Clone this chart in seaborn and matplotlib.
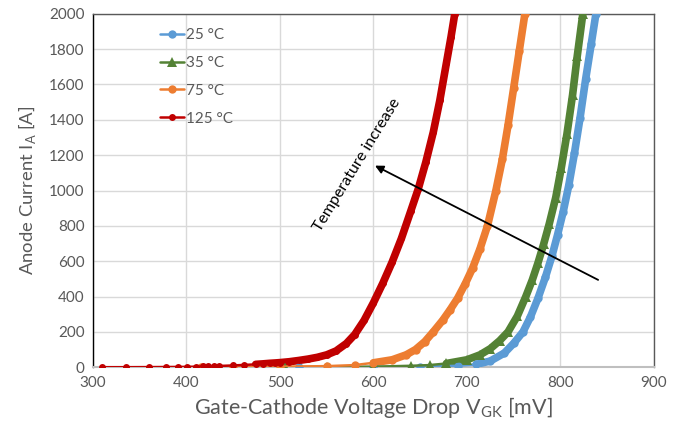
import seaborn as sns
import matplotlib.pyplot as plt
import pandas as pd
from matplotlib.lines import Line2D

# values (mV, A)
v_25 = [520, 600, 650, 690, 710, 725, 740, 750, 760, 768, 776, 784, 791, 797, 803, 809, 815, 821, 827, 833, 838]
i_25 = [0, 1, 3, 8, 16, 35, 80, 135, 200, 285, 390, 510, 630, 750, 880, 1030, 1210, 1410, 1630, 1830, 2000]

v_35 = [505, 550, 600, 640, 660, 678, 700, 714, 725, 735, 744, 754, 763, 770, 776, 782, 788, 795, 801, 807, 813, 818, 824]
i_35 = [0, 1, 3, 8, 12, 21, 42, 70, 105, 150, 200, 290, 400, 495, 590, 695, 810, 960, 1130, 1320, 1540, 1760, 2000]

v_75 = [415, 450, 500, 550, 580, 600, 620, 635, 645, 655, 664, 674, 682, 690, 698, 706, 714, 722, 731, 738, 744, 750, 756, 762]
i_75 = [0, 1, 3, 6, 12, 25, 42, 70, 100, 145, 200, 265, 325, 390, 470, 560, 670, 800, 1000, 1180, 1370, 1580, 1790, 2000]

v_125 = [310, 335, 360, 378, 391, 401, 410, 418, 423, 429, 435, 450, 462, 474, 482, 489, 495, 500, 510, 520,
         530, 540, 550, 560, 571, 580, 590, 600, 610, 620, 630, 640, 648, 656, 664, 671, 678, 683, 687]
i_125 = [0, 0, 0.5, 1, 1.5, 2, 3, 4, 5, 6, 7, 10, 13, 16, 19, 22, 24, 26, 31, 38,
         46, 56, 70, 92, 134, 185, 265, 365, 475, 595, 730, 885, 1010, 1160, 1330, 1510, 1720, 1870, 2000]

labels = ['25 °C', '35 °C', '75 °C', '125 °C']
colors = ['#5b9bd5', '#548235', '#ed7d31', '#c00000']
markers = ['o', '^', 'o', 'o']
msizes = [6, 7, 6, 5]

frames = []
for lab, v, i in zip(labels, [v_25, v_35, v_75, v_125], [i_25, i_35, i_75, i_125]):
    frames.append(pd.DataFrame({'V': v, 'I': i, 'T': lab}))
df = pd.concat(frames, ignore_index=True)

sns.set_style('white')
plt.rcParams['font.family'] = ['Lato', 'DejaVu Sans']
plt.rcParams['mathtext.fontset'] = 'custom'
plt.rcParams['mathtext.rm'] = 'Lato'
txt = '#595959'

fig = plt.figure(figsize=(6.79, 4.32), dpi=100)
ax = fig.add_axes([0.137, 0.150, 0.826, 0.818])

ax.grid(True, color='#d9d9d9', lw=1)
ax.set_axisbelow(True)

handles = []
for lab, col, mk, ms in zip(labels, colors, markers, msizes):
    sub = df[df['T'] == lab]
    steep = sub[sub['I'] >= 15]
    # dense markers in the reference merge into a thick stroke
    sns.lineplot(data=steep, x='V', y='I', color=col, lw=5.5, ax=ax, legend=False,
                 estimator=None, sort=False, solid_capstyle='round', solid_joinstyle='round', zorder=3)
    sns.lineplot(data=sub, x='V', y='I', color=col, lw=1.8, marker=mk, markersize=ms,
                 markeredgewidth=0, ax=ax, legend=False, estimator=None, sort=False, zorder=4)
    handles.append(Line2D([], [], color=col, lw=1.8, marker=mk, markersize=ms, markeredgewidth=0))

ax.set_xlim(300, 900)
ax.set_ylim(0, 2000)
ax.set_xticks(range(300, 901, 100))
ax.set_yticks(range(0, 2001, 200))
ax.tick_params(length=0, labelsize=11, labelcolor=txt, pad=6)

ax.set_xlabel('Gate-Cathode Voltage Drop V$_\\mathregular{GK}$ [mV]', fontsize=15.5, color=txt, labelpad=4)
ax.set_ylabel('Anode Current I$_\\mathregular{A}$ [A]', fontsize=13.3, color=txt, labelpad=8)

for s in ['top', 'right']:
    ax.spines[s].set_color('#595959')
    ax.spines[s].set_linewidth(1)
ax.spines['left'].set_color('#000000')
ax.spines['left'].set_linewidth(1)
ax.spines['bottom'].set_color('#bfbfbf')
ax.spines['bottom'].set_linewidth(1.5)

ax.legend(handles, labels, loc='upper left', bbox_to_anchor=(0.095, 0.998), frameon=False,
          fontsize=11, labelcolor=txt, handlelength=1.6, handletextpad=0.1, labelspacing=0.9)

ax.annotate('', xy=(599, 1148), xytext=(843, 487),
            arrowprops=dict(arrowstyle='-|>', color='black', lw=1.3, mutation_scale=12), zorder=5)
ax.text(582, 1144, 'Temperature increase', rotation=58.5, ha='center', va='center',
        fontsize=11.5, color='black', zorder=5)

fig.savefig('out.png', dpi=100)
